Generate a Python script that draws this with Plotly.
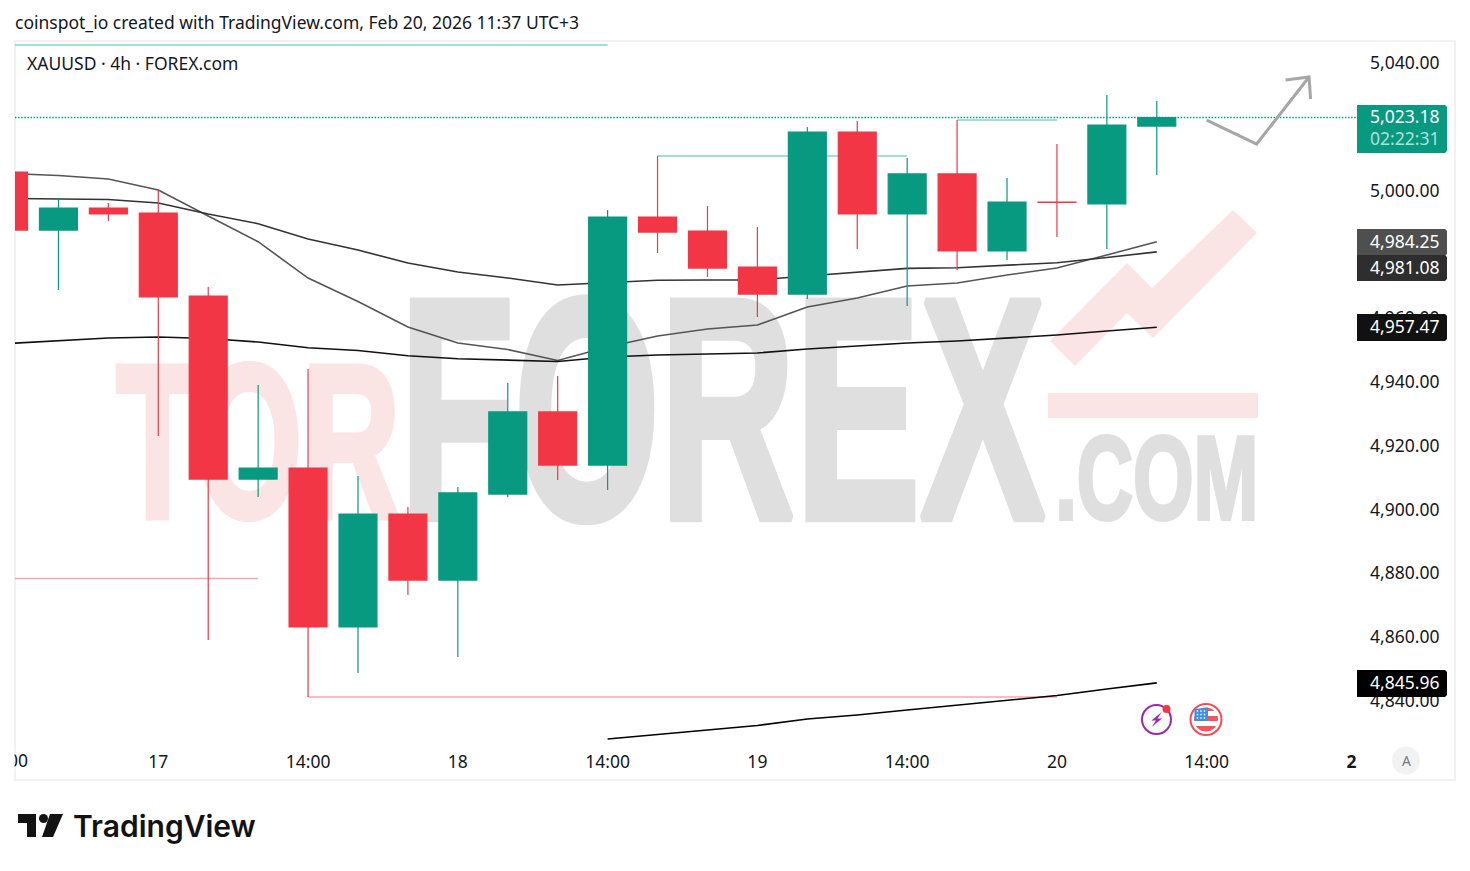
import json
import plotly.graph_objects as go

W, H = 1470, 871
PLOT_L, PLOT_R, PLOT_T, PLOT_B = 15, 1357, 42, 740
UP, DOWN = "#089981", "#F23645"
FONT = "Noto Sans"

# ---- data -------------------------------------------------------------
idx = list(range(24))
opens = [5006.1, 4987.9, 4994.8, 4993.25, 4967.25, 4909.85, 4913.3, 4863.5, 4898.9, 4878.2, 4905.15, 4930.9,
         4914.25, 4992.0, 4987.6, 4976.3, 4967.85, 5018.65, 4992.95, 5005.5, 4981.35, 4996.7, 4996.1, 5020.5]
highs = [5006.1, 4997.75, 4996.4, 5000.6, 4970.05, 4939.35, 4944.35, 4910.8, 4901.1, 4907.35, 4939.95, 4942.15,
         4994.2, 5011.1, 4995.45, 4988.9, 5020.2, 5022.1, 5010.5, 5022.4, 5004.2, 5014.9, 5030.25, 5028.37]
lows = [4987.9, 4969.1, 4990.75, 4923.35, 4859.4, 4904.2, 4841.55, 4849.1, 4873.5, 4854.1, 4904.2, 4909.55,
        4906.4, 4980.7, 4973.2, 4960.65, 4966.3, 4982.0, 4964.1, 4975.4, 4978.5, 4985.75, 4982.0, 5005.2]
closes = [4987.9, 4994.8, 4993.0, 4966.95, 4909.85, 4913.3, 4863.5, 4898.9, 4878.2, 4905.5, 4930.9, 4914.25,
          4992.0, 4987.3, 4976.0, 4967.85, 5018.65, 4992.95, 5005.5, 4981.35, 4996.7, 4996.6, 5020.85, 5023.18]

ma_fast = [5005.64, 5005.02, 5003.92, 5000.47, 4992.32, 4984.26, 4972.88, 4965.52, 4957.52, 4952.51, 4950.47, 4947.02,
           4951.25, 4954.7, 4956.9, 4958.15, 4963.79, 4966.61, 4970.38, 4971.32, 4973.82, 4976.02, 4980.09, 4984.25]
ma_mid = [4997.81, 4997.74, 4997.49, 4996.4, 4992.95, 4989.91, 4985.11, 4981.66, 4977.59, 4974.76, 4972.88, 4970.69,
          4971.54, 4972.16, 4972.26, 4972.3, 4973.51, 4974.76, 4975.92, 4976.11, 4976.96, 4977.68, 4979.31, 4981.08]
ma_slow = [4952.35, 4953.13, 4954.08, 4954.39, 4953.92, 4952.82, 4951.04, 4950.16, 4948.53, 4947.59, 4947.18, 4946.71,
           4948.12, 4948.75, 4949.06, 4949.37, 4950.63, 4951.57, 4952.51, 4953.13, 4954.08, 4955.02, 4956.27, 4957.47]
ma_long_x = [12, 13, 14, 15, 16, 17, 18, 19, 20, 21, 22, 23]
ma_long = [4828.37, 4829.78, 4831.19, 4832.6, 4834.64, 4835.89, 4837.46, 4839.03, 4840.6, 4842.01, 4844.05, 4845.96]

levels_teal = [(0, 12, 5045.9), (13, 18, 5011.1), (19, 21, 5022.4)]
levels_red = [(0, 5, 4878.7), (6, 21, 4841.55)]

arrow_x = [24, 25, 26.05, None, 25.58, 26.05, 26.08]
arrow_y = [5022.41, 5014.89, 5035.89, None, 5034.95, 5035.89, 5029.0]

y_ticks = [4840, 4860, 4880, 4900, 4920, 4940, 4960, 5000, 5040]
x_ticks = [3, 6, 9, 12, 15, 18, 21, 24, 26.9]
x_labels = ["17", "14:00", "18", "14:00", "19", "14:00", "20", "14:00", "<b>2</b>"]

last_price = 5023.18
countdown = "02:22:31"
badge_values = [4984.25, 4981.08, 4957.47, 4845.96]

Y_RANGE = [4828.06, 5046.87]
X_RANGE = [0.13, 27.01]

wm_text = ["TOR", "FOREX", ".COM"]
wm_x = [5.0, 14.3, 23.0]
wm_y = [4915.0, 4922.26, 4906.6]
wm_size = [219, 315, 118]
wm_color = ["#FBE4E4", "#DFDFDF", "#DFDFDF"]
wm_fx = {"TOR": [0.62, 1, 6], "FOREX": [0.595, 1, 8], ".COM": [0.66, 1, 4]}


# ---- helpers ----------------------------------------------------------
def px(x):
    return x / W


def py(y):
    return 1 - y / H


def path(points):
    return "M" + "L".join(f"{px(a):.5f},{py(b):.5f}" for a, b in points) + "Z"


def text(x, y, s, size=17.5, color="#131722", anchor="left", family=FONT, weight=None):
    return dict(xref="paper", yref="paper", x=px(x), y=py(y), text=s, showarrow=False,
                xanchor=anchor, yanchor="middle",
                font=dict(family=family, size=size, color=color, weight=weight))


def badge(y0, y1, color):
    r = 2
    return dict(type="path", xref="paper", yref="paper", layer="above", line_width=0, fillcolor=color,
                path=path([(1357, y0), (1447 - r, y0), (1447, y0 + r), (1447, y1 - r), (1447 - r, y1), (1357, y1)]))


def circle(cx, cy, r, fill=None, line=None, lw=0):
    return dict(type="circle", xref="paper", yref="paper", layer="above",
                x0=px(cx - r), x1=px(cx + r), y0=py(cy + r), y1=py(cy - r),
                fillcolor=fill or "rgba(0,0,0,0)", line=dict(color=line or "rgba(0,0,0,0)", width=lw))


def poly(points, fill, layer="above"):
    return dict(type="path", xref="paper", yref="paper", layer=layer, path=path(points), fillcolor=fill, line_width=0)


# ---- figure -----------------------------------------------------------
fig = go.Figure()

fig.add_trace(go.Scatter(x=wm_x, y=wm_y, text=wm_text, mode="text", textposition="middle center",
                         textfont=dict(family="Liberation Sans", size=wm_size, color=wm_color, weight="bold"),
                         hoverinfo="skip", showlegend=False))

fig.add_trace(go.Scatter(x=[X_RANGE[0], X_RANGE[1]], y=[last_price, last_price], mode="lines",
                         line=dict(color="#009C80", width=1.6, dash="1.5px,1.6px"), showlegend=False))

for a, b, v in levels_teal:
    fig.add_trace(go.Scatter(x=[a, b], y=[v, v], mode="lines", line=dict(color="#8AD3C3", width=1.5), showlegend=False))
for a, b, v in levels_red:
    fig.add_trace(go.Scatter(x=[a, b], y=[v, v], mode="lines", line=dict(color="#F8A5AC", width=1.5), showlegend=False))

fig.add_trace(go.Scatter(x=idx, y=ma_fast, mode="lines", line=dict(color="#555555", width=1.6), showlegend=False))
fig.add_trace(go.Scatter(x=idx, y=ma_mid, mode="lines", line=dict(color="#333333", width=1.6), showlegend=False))
fig.add_trace(go.Scatter(x=idx, y=ma_slow, mode="lines", line=dict(color="#111111", width=1.6), showlegend=False))
fig.add_trace(go.Scatter(x=ma_long_x, y=ma_long, mode="lines", line=dict(color="#000000", width=1.6), showlegend=False))
fig.add_trace(go.Scatter(x=arrow_x, y=arrow_y, mode="lines", line=dict(color="#A6A6A6", width=3), showlegend=False))

fig.add_trace(go.Candlestick(x=idx, open=opens, high=highs, low=lows, close=closes, xaxis="x2", yaxis="y2",
                             whiskerwidth=0,
                             increasing=dict(line=dict(color=UP, width=1.2), fillcolor=UP),
                             decreasing=dict(line=dict(color=DOWN, width=1.2), fillcolor=DOWN),
                             showlegend=False))

shapes = [
    dict(type="rect", xref="paper", yref="paper", layer="below", x0=px(15), x1=px(1455), y0=py(780), y1=py(41),
         line=dict(color="#F1F1F1", width=2)),
    # watermark chart mark
    poly([(1050, 341), (1127, 263), (1152, 288), (1233, 210), (1257, 233), (1153, 338), (1127, 313), (1075, 366)],
         "#FBE4E4", "below"),
    poly([(1048, 393), (1258, 393), (1258, 418), (1048, 418)], "#FBE4E4", "below"),
    # price badges
    badge(105, 153, UP),
    badge(229, 256, "#4F4F4F"),
    badge(255, 281, "#2E2E2E"),
    badge(314, 341, "#111111"),
    badge(670, 697, "#000000"),
    # session-break icon
    circle(1156.5, 719.5, 14.5, None, "#9C27B0", 2),
    poly([(1161.7, 712), (1151.5, 720.5), (1156, 720.5), (1151.7, 727), (1162, 718.5), (1157.5, 718.5)], "#9C27B0"),
    circle(1166.5, 709, 4, "#F23645"),
    # US economic event icon
    circle(1206, 719.5, 15.5, "#FFFFFF", "#F04E55", 2),
    circle(1206, 719.5, 12, "#F7525F"),
    poly([(1194, 711), (1218, 711), (1218, 716), (1194, 716)], "#FFFFFF"),
    poly([(1194, 721), (1218, 721), (1218, 726), (1194, 726)], "#FFFFFF"),
    poly([(1194.5, 709), (1208, 707.5), (1208, 721), (1194.5, 721)], "#3D8FE8"),
    # axis-mode button
    circle(1406, 760.5, 14, "#F2F2F2"),
    # TradingView mark
    poly([(18, 814), (36, 814), (36, 837), (27, 837), (27, 823), (18, 823)], "#131313"),
    circle(43.5, 818.5, 4.5, "#131313"),
    poly([(50, 814), (63, 814), (53, 837), (42, 837)], "#131313"),
]
shapes += [circle(1197.5 + 3.5 * i, 711 + 3.5 * j, 0.9, "#DCEBFB") for i in range(3) for j in range(3)]

annotations = [
    text(13, 22, "coinspot_io created with TradingView.com, Feb 20, 2026 11:37 UTC+3", 17.5),
    text(25, 63, "XAUUSD · 4h · FOREX.com", 17.5),
    text(30, 760, "00", anchor="right"),
    dict(xref="paper", yref="paper", x=0, y=py(760), xanchor="left", yanchor="middle", text=" ", showarrow=False,
         width=13, height=22, bgcolor="#FFFFFF", borderpad=0),
    text(1368, 116, f"{last_price:,.2f}", color="#FFFFFF"),
    text(1368, 138, countdown, color="rgba(255,255,255,0.7)"),
    text(1368, 241, f"{badge_values[0]:,.2f}", color="#FFFFFF"),
    text(1368, 267, f"{badge_values[1]:,.2f}", color="#FFFFFF"),
    text(1368, 326, f"{badge_values[2]:,.2f}", color="#FFFFFF"),
    text(1368, 682, f"{badge_values[3]:,.2f}", color="#FFFFFF"),
    text(1406, 760, "A", 14, "#787B86", "center"),
    text(71, 825.5, "TradingView", 30, "#131313", family="Inter", weight=600),
]

axis_font = dict(family=FONT, size=17.5, color="#131722")
fig.update_layout(
    width=W, height=H, margin=dict(l=0, r=0, t=0, b=0), paper_bgcolor="#FFFFFF", plot_bgcolor="rgba(0,0,0,0)",
    showlegend=False, boxgap=0.24, boxgroupgap=0,
    xaxis=dict(domain=[px(PLOT_L), px(PLOT_R)], range=X_RANGE, tickmode="array", tickvals=x_ticks, ticktext=x_labels,
               showgrid=False, zeroline=False, showline=False, ticks="", tickfont=axis_font, ticklabelstandoff=9,
               fixedrange=True, anchor="y"),
    yaxis=dict(domain=[py(PLOT_B), py(PLOT_T)], range=Y_RANGE, side="right", tickmode="array", tickvals=y_ticks,
               ticktext=[f"{v:,.2f}" for v in y_ticks], showgrid=False, zeroline=False, showline=False, ticks="",
               tickfont=axis_font, ticklabelstandoff=12, ticklabelshift=-1, fixedrange=True, anchor="x"),
    xaxis2=dict(overlaying="x", range=X_RANGE, visible=False, rangeslider=dict(visible=False), fixedrange=True,
                anchor="y2"),
    yaxis2=dict(overlaying="y", range=Y_RANGE, visible=False, side="right", fixedrange=True, anchor="x2"),
    shapes=shapes, annotations=annotations,
)

post = """
document.body.style.margin='0';document.body.style.overflow='hidden';
var fx=%s;
document.querySelectorAll('.textpoint text').forEach(function(t){
  var c=fx[t.textContent]; if(!c) return;
  var x=+t.getAttribute('x'), y=+t.getAttribute('y');
  t.setAttribute('transform','translate('+x+' '+y+') scale('+c[0]+' '+c[1]+') translate('+(-x)+' '+(-y)+')');
  t.style.stroke=t.style.fill; t.style.strokeWidth=c[2]+'px'; t.style.strokeLinejoin='miter';
});
""" % json.dumps(wm_fx)

fig.write_html("out.html", config=dict(displayModeBar=False), post_script=post)
